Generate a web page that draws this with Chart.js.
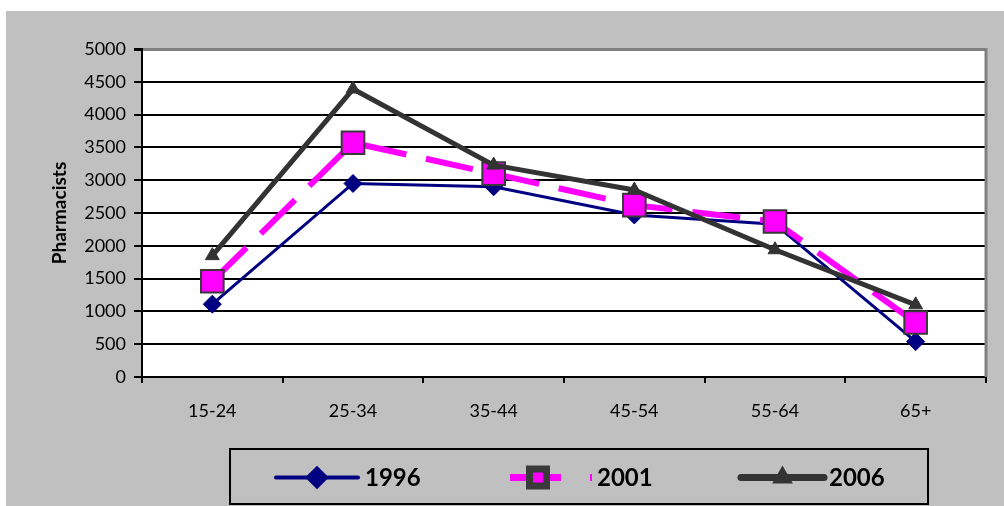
<!DOCTYPE html>
<html>
<head>
<meta charset="utf-8">
<script src="https://cdn.jsdelivr.net/npm/chart.js@4.4.1/dist/chart.umd.min.js"></script>
<style>
  html, body { margin: 0; padding: 0; background: #ffffff; }
  #wrap { width: 1004px; height: 506px; }
</style>
</head>
<body>
<div id="wrap"><canvas id="c" width="1004" height="506"></canvas></div>
<script>
// Pharmacists by age group, three census years
const ageGroups = ['15-24', '25-34', '35-44', '45-54', '55-64', '65+'];
const pharmacists1996 = [1110, 2950, 2900, 2470, 2330, 540];
const pharmacists2001 = [1460, 3570, 3100, 2620, 2370, 830];
const pharmacists2006 = [1850, 4390, 3230, 2850, 1940, 1100];
const seriesNames = ['1996', '2001', '2006'];
const yAxisMin = 0;
const yAxisMax = 5000;
const yAxisStep = 500;
const yAxisTitle = 'Pharmacists';

const FONT = 'Lato, "Open Sans", "DejaVu Sans", sans-serif';

// Gray panel, white plot area and its frame
const backdrop = {
  id: 'backdrop',
  beforeDraw(chart) {
    const { ctx, chartArea: a, width, height } = chart;
    ctx.save();
    ctx.fillStyle = '#ffffff';
    ctx.fillRect(0, 0, width, height);
    ctx.fillStyle = '#c0c0c0';
    ctx.fillRect(6, 11, width - 6, height - 11);
    ctx.fillStyle = '#ffffff';
    ctx.fillRect(a.left, a.top, a.right - a.left, a.bottom - a.top);
    ctx.restore();
  },
  beforeDatasetsDraw(chart) {
    const { ctx, chartArea: a } = chart;
    ctx.save();
    ctx.strokeStyle = '#808080';
    ctx.lineWidth = 3;
    ctx.beginPath();
    ctx.moveTo(a.right, a.top - 1);
    ctx.lineTo(a.right, a.bottom);
    ctx.stroke();
    ctx.restore();
  }
};

// Boxed legend below the chart: line sample, marker, bold label
const boxedLegend = {
  id: 'boxedLegend',
  afterDraw(chart) {
    const { ctx } = chart;
    const box = { x: 230, y: 449, w: 698, h: 55 };
    const cy = box.y + box.h / 2 + 1;
    const slots = [
      { x0: 276, x1: 358, text: 365, lw: 4, r: 9, shift: 0 },
      { x0: 510, x1: 592, text: 597, lw: 7, r: 12, shift: -13 },
      { x0: 741, x1: 824, text: 829, lw: 7, r: 5, shift: 0 }
    ];
    ctx.save();
    ctx.strokeStyle = '#000000';
    ctx.lineWidth = 2;
    ctx.strokeRect(box.x, box.y, box.w, box.h);
    chart.data.datasets.forEach((ds, i) => {
      const s = slots[i];
      ctx.save();
      ctx.strokeStyle = ds.borderColor;
      ctx.lineWidth = s.lw;
      ctx.lineCap = ds.borderDash ? 'butt' : 'round';
      ctx.setLineDash(ds.borderDash ? [51, 29] : []);
      ctx.beginPath();
      ctx.moveTo(s.x0, cy);
      ctx.lineTo(s.x1, cy);
      ctx.stroke();
      ctx.setLineDash([]);
      ctx.fillStyle = ds.pointBackgroundColor;
      ctx.strokeStyle = ds.pointBorderColor;
      Chart.helpers.drawPoint(ctx, {
        pointStyle: ds.pointStyle, rotation: 0, radius: s.r,
        borderWidth: ds.pointBorderWidth
      }, (s.x0 + s.x1) / 2 + s.shift, cy);
      ctx.restore();
      ctx.fillStyle = '#000000';
      ctx.font = 'bold 24px ' + FONT;
      ctx.textBaseline = 'middle';
      ctx.textAlign = 'left';
      ctx.fillText(ds.label, s.text, cy + 1);
    });
    ctx.restore();
  }
};

new Chart(document.getElementById('c'), {
  type: 'line',
  data: {
    labels: ageGroups,
    datasets: [
      {
        label: seriesNames[0],
        data: pharmacists1996,
        borderColor: '#000080',
        borderWidth: 3,
        pointStyle: 'rectRot',
        pointRadius: 9,
        pointBackgroundColor: '#000080',
        pointBorderColor: '#000080',
        pointBorderWidth: 1,
        order: 3
      },
      {
        label: seriesNames[1],
        data: pharmacists2001,
        borderColor: '#ff00ff',
        borderWidth: 6,
        borderDash: [48, 20],
        borderCapStyle: 'butt',
        pointStyle: 'rect',
        pointRadius: 16,
        pointBackgroundColor: '#ff00ff',
        pointBorderColor: '#3a3a3a',
        pointBorderWidth: 2,
        order: 2
      },
      {
        label: seriesNames[2],
        data: pharmacists2006,
        borderColor: '#333333',
        borderWidth: 5,
        borderJoinStyle: 'round',
        borderCapStyle: 'round',
        pointStyle: 'triangle',
        pointRadius: 8,
        pointBackgroundColor: '#333333',
        pointBorderColor: '#333333',
        pointBorderWidth: 1,
        order: 1
      }
    ]
  },
  options: {
    responsive: false,
    animation: false,
    events: [],
    layout: { padding: { left: 0, top: 49, right: 4, bottom: 79 } },
    elements: { line: { tension: 0 } },
    plugins: {
      legend: { display: false },
      tooltip: { enabled: false },
      title: { display: false }
    },
    scales: {
      x: {
        offset: true,
        grid: {
          offset: true,
          drawOnChartArea: false,
          drawTicks: true,
          tickLength: 6,
          tickColor: '#000000',
          lineWidth: 2
        },
        border: { color: '#000000', width: 2 },
        ticks: {
          color: '#000000',
          padding: 17,
          maxRotation: 0,
          font: { family: FONT, size: 18 }
        },
        afterFit(scale) { scale.height = 50; }
      },
      y: {
        min: yAxisMin,
        max: yAxisMax,
        ticks: {
          stepSize: yAxisStep,
          color: '#000000',
          padding: 8,
          font: { family: FONT, size: 18 },
          callback: (v) => String(v)
        },
        grid: {
          color: (c) => (c.tick && c.tick.value === yAxisMax ? '#808080' : '#000000'),
          lineWidth: (c) => (c.tick && c.tick.value === yAxisMax ? 3 : 2),
          tickColor: '#000000',
          tickLength: 8
        },
        border: { color: '#000000', width: 2 },
        title: {
          display: true,
          text: yAxisTitle,
          color: '#000000',
          font: { family: FONT, size: 19, weight: 'bold' },
          padding: { top: 48, bottom: 0 }
        },
        afterFit(scale) { scale.width = 142; }
      }
    }
  },
  plugins: [backdrop, boxedLegend]
});
</script>
</body>
</html>
